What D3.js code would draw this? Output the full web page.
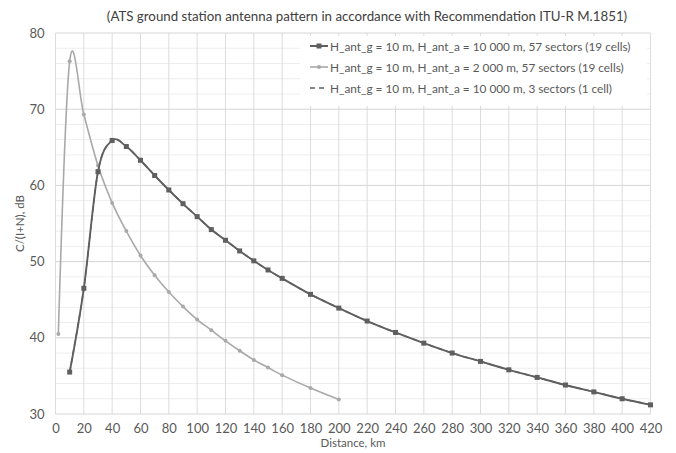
<!DOCTYPE html>
<html>
<head>
<meta charset="utf-8">
<script src="https://cdn.jsdelivr.net/npm/d3@7/dist/d3.min.js"></script>
<style>
  html, body { margin: 0; padding: 0; background: #fff; }
  svg { display: block; font-family: Lato, "Open Sans", sans-serif; }
</style>
</head>
<body>
<svg id="chart" width="676" height="453"></svg>
<script>
// Distance samples (km) and C/(I+N) values (dB) for each configuration
const distA = [10, 20, 30, 40, 50, 60, 70, 80, 90, 100, 110, 120, 130, 140, 150, 160,
               180, 200, 220, 240, 260, 280, 300, 320, 340, 360, 380, 400, 420];
const valuesA = [35.5, 46.5, 61.8, 65.9, 65.1, 63.3, 61.3, 59.4, 57.6, 55.9, 54.2, 52.8, 51.4, 50.1, 48.9, 47.8,
                 45.7, 43.9, 42.2, 40.7, 39.3, 38.0, 36.9, 35.8, 34.8, 33.8, 32.9, 32.0, 31.2];

const distB = [2, 10, 20, 30, 40, 50, 60, 70, 80, 90, 100, 110, 120, 130, 140, 150, 160, 180, 200];
const valuesB = [40.5, 76.3, 69.3, 62.6, 57.7, 54.0, 50.8, 48.2, 46.0, 44.1, 42.4, 41.0, 39.6, 38.3, 37.1, 36.1, 35.1, 33.4, 31.9];

// Single-cell case coincides with the 57-sector curve
const distC = distA.slice();
const valuesC = valuesA.slice();

const seriesNames = [
  "H_ant_g = 10 m, H_ant_a = 10 000 m, 57 sectors (19 cells)",
  "H_ant_g = 10 m, H_ant_a = 2 000 m, 57 sectors (19 cells)",
  "H_ant_g = 10 m, H_ant_a = 10 000 m, 3 sectors (1 cell)"
];

const xTicks = d3.range(0, 421, 20);
const yTicks = [30, 40, 50, 60, 70, 80];
const yMinorTicks = d3.range(30, 80.1, 2);

const titleText = "(ATS ground station antenna pattern in accordance with Recommendation  ITU-R M.1851)";
const xTitle = "Distance, km";
const yTitle = "C/(I+N), dB";

// Layout
const svg = d3.select("#chart");
const plot = { left: 55.5, right: 650.5, top: 33, bottom: 414 };

const x = d3.scaleLinear().domain([0, 420]).range([plot.left, plot.right]);
const y = d3.scaleLinear().domain([30, 80]).range([plot.bottom, plot.top]);

const textColor = "#595959";
const colA = "#5f5f5f";
const colB = "#a9a9a9";

// Gridlines
const grid = svg.append("g");
grid.selectAll("line.minor").data(yMinorTicks.filter(v => v % 10 !== 0)).join("line")
  .attr("class", "minor")
  .attr("x1", plot.left).attr("x2", plot.right)
  .attr("y1", d => y(d)).attr("y2", d => y(d))
  .attr("stroke", "#eeeeee").attr("stroke-width", 1);

grid.selectAll("line.vx").data(xTicks).join("line")
  .attr("class", "vx")
  .attr("x1", d => x(d)).attr("x2", d => x(d))
  .attr("y1", plot.top).attr("y2", plot.bottom)
  .attr("stroke", "#dcdcdc").attr("stroke-width", 1);

grid.selectAll("line.hy").data(yTicks).join("line")
  .attr("class", "hy")
  .attr("x1", plot.left).attr("x2", plot.right)
  .attr("y1", d => y(d)).attr("y2", d => y(d))
  .attr("stroke", "#d6d6d6").attr("stroke-width", 1);

// Axes (labels only)
const xAxis = d3.axisBottom(x).tickValues(xTicks).tickSize(0).tickPadding(10);
const gx = svg.append("g").attr("transform", `translate(0,${plot.bottom})`).call(xAxis);
gx.select(".domain").remove();
gx.selectAll("text").attr("fill", textColor).style("font-size", "13px").style("font-family", "Lato, sans-serif");

const yAxis = d3.axisLeft(y).tickValues(yTicks).tickSize(0).tickPadding(11);
const gy = svg.append("g").attr("transform", `translate(${plot.left},0)`).call(yAxis);
gy.select(".domain").remove();
gy.selectAll("text").attr("fill", textColor).style("font-size", "13px").style("font-family", "Lato, sans-serif");

// Titles
svg.append("text").attr("x", 367).attr("y", 21).attr("text-anchor", "middle")
  .attr("fill", "#404040").style("font-size", "13.3px").text(titleText);
svg.append("text").attr("x", 353).attr("y", 447).attr("text-anchor", "middle")
  .attr("fill", textColor).style("font-size", "11.5px").text(xTitle);
svg.append("text").attr("transform", `translate(24,${(plot.top + plot.bottom) / 2}) rotate(-90)`)
  .attr("text-anchor", "middle").attr("fill", textColor).style("font-size", "11.5px").text(yTitle);

// Series
const line = d3.line().x(d => x(d[0])).y(d => y(d[1])).curve(d3.curveCardinal.tension(0));
const ptsA = d3.zip(distA, valuesA);
const ptsB = d3.zip(distB, valuesB);
const ptsC = d3.zip(distC, valuesC);

svg.append("path").datum(ptsC).attr("d", line)
  .attr("fill", "none").attr("stroke", colA).attr("stroke-width", 1.5).attr("stroke-dasharray", "5,4");

svg.append("path").datum(ptsB).attr("d", line)
  .attr("fill", "none").attr("stroke", colB).attr("stroke-width", 1.6);
svg.append("g").selectAll("circle").data(ptsB).join("circle")
  .attr("cx", d => x(d[0])).attr("cy", d => y(d[1])).attr("r", 2)
  .attr("fill", colB);

svg.append("path").datum(ptsA).attr("d", line)
  .attr("fill", "none").attr("stroke", colA).attr("stroke-width", 1.9);
svg.append("g").selectAll("rect").data(ptsA).join("rect")
  .attr("x", d => x(d[0]) - 2.5).attr("y", d => y(d[1]) - 2.5)
  .attr("width", 5).attr("height", 5).attr("fill", colA);

// Legend
const legend = svg.append("g");
legend.append("rect").attr("x", 300).attr("y", 36).attr("width", 347).attr("height", 70).attr("fill", "#fff");
const rows = [46, 67, 88];
const lx0 = 310, lx1 = 328;
// row 1
legend.append("line").attr("x1", lx0).attr("x2", lx1).attr("y1", rows[0]).attr("y2", rows[0])
  .attr("stroke", colA).attr("stroke-width", 2);
legend.append("rect").attr("x", (lx0 + lx1) / 2 - 2.5).attr("y", rows[0] - 2.5).attr("width", 5).attr("height", 5).attr("fill", colA);
// row 2
legend.append("line").attr("x1", lx0).attr("x2", lx1).attr("y1", rows[1]).attr("y2", rows[1])
  .attr("stroke", colB).attr("stroke-width", 1.6);
legend.append("circle").attr("cx", (lx0 + lx1) / 2).attr("cy", rows[1]).attr("r", 2).attr("fill", colB);
// row 3
legend.append("line").attr("x1", lx0).attr("x2", lx1).attr("y1", rows[2]).attr("y2", rows[2])
  .attr("stroke", colA).attr("stroke-width", 1.5).attr("stroke-dasharray", "5,4");

legend.selectAll("text").data(seriesNames).join("text")
  .attr("x", 330).attr("y", (d, i) => rows[i] + 4.5)
  .attr("fill", textColor).style("font-size", "11.8px").text(d => d);
</script>
</body>
</html>
